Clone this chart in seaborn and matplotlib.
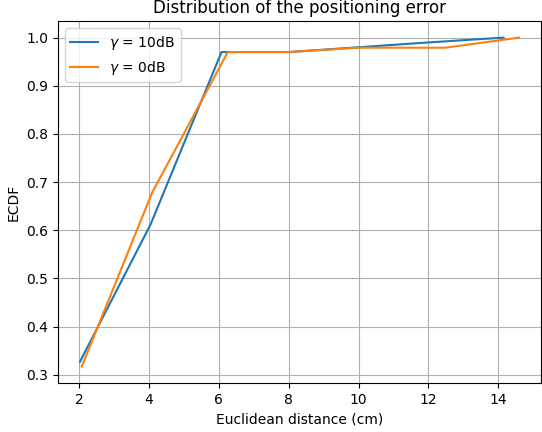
import matplotlib
matplotlib.use("Agg")
import matplotlib.pyplot as plt
import seaborn as sns
import pandas as pd

dist_10db = [2.03, 4.05, 6.08, 8.0, 10.0, 12.0, 14.15]
ecdf_10db = [0.327, 0.612, 0.970, 0.970, 0.980, 0.990, 1.000]
dist_0db = [2.08, 4.10, 6.26, 8.0, 10.0, 12.48, 14.59]
ecdf_0db = [0.317, 0.679, 0.970, 0.970, 0.979, 0.979, 1.000]
labels = [r"$\gamma$ = 10dB", r"$\gamma$ = 0dB"]

df = pd.concat([
    pd.DataFrame({"x": dist_10db, "y": ecdf_10db, "s": labels[0]}),
    pd.DataFrame({"x": dist_0db, "y": ecdf_0db, "s": labels[1]}),
])

fig = plt.figure(figsize=(5.42, 4.32), dpi=100)
ax = fig.add_axes([0.107, 0.1134, 0.891, 0.8376])
sns.lineplot(data=df, x="x", y="y", hue="s", estimator=None, sort=False,
             palette=["#1f77b4", "#ff7f0e"], linewidth=1.5, ax=ax)
ax.grid(True, color="#b0b0b0", linewidth=0.8)
ax.set_axisbelow(True)
ax.set_xticks([2, 4, 6, 8, 10, 12, 14])
ax.set_yticks([0.3, 0.4, 0.5, 0.6, 0.7, 0.8, 0.9, 1.0])
ax.set_xlabel("Euclidean distance (cm)")
ax.set_ylabel("ECDF")
ax.set_title("Distribution of the positioning error")
ax.legend(title=None, loc="upper left")
fig.savefig("out.png", dpi=100)
